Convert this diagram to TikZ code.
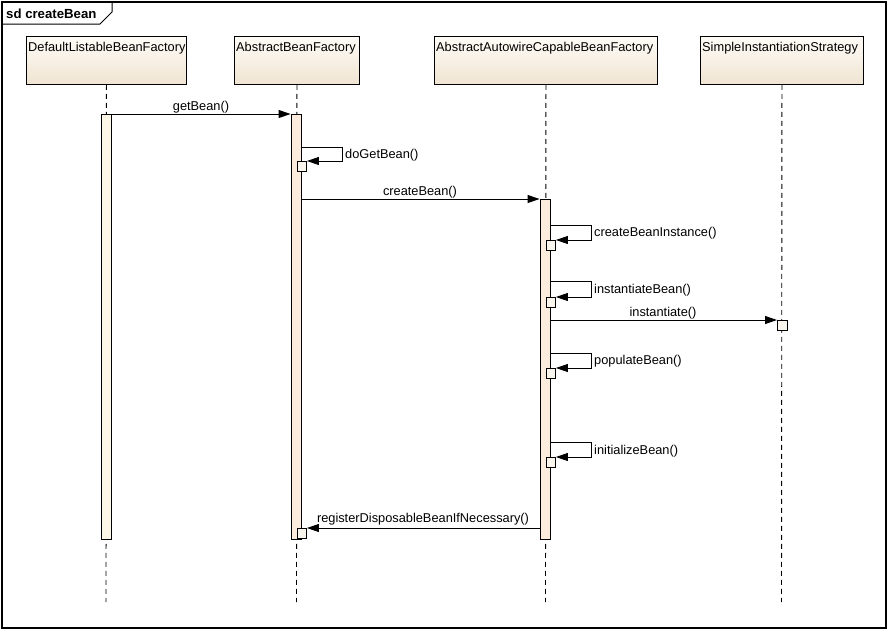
\documentclass[tikz,border=0pt]{standalone}
\usepackage{fontspec}
\setmainfont{Liberation Sans}
\usetikzlibrary{arrows.meta}
\definecolor{boxtop}{RGB}{254,252,247}
\definecolor{boxbot}{RGB}{240,228,210}
\definecolor{actA}{RGB}{253,247,232}
\definecolor{actB}{RGB}{252,236,222}
\definecolor{smallc}{RGB}{250,246,238}
\tikzset{
  objbox/.style={draw=black, line width=0.9pt, rectangle, inner sep=0pt, top color=boxtop, bottom color=boxbot},
  objtext/.style={anchor=base west, inner sep=0pt, font=\fontsize{12.8}{15}\selectfont},
  lifeline/.style={draw=black, line width=0.9pt, dash pattern=on 5pt off 4pt},
  act/.style={draw=black, line width=0.9pt, rectangle, inner sep=0pt, minimum width=10pt, anchor=north},
  smallbox/.style={draw=black, line width=0.9pt, rectangle, inner sep=0pt, minimum width=9.5pt, minimum height=9.5pt, fill=smallc, anchor=north west},
  msg/.style={draw=black, line width=0.9pt, -{Triangle[length=12pt,width=8pt]}},
  msglabel/.style={anchor=base, inner sep=0pt, font=\fontsize{12.8}{15}\selectfont},
  selflabel/.style={anchor=west, inner sep=0pt, font=\fontsize{12.8}{15}\selectfont},
}
\begin{document}
\begin{tikzpicture}[x=1pt,y=-1pt]
\useasboundingbox (0,0) rectangle (888,630);
\fill[white] (0,0) rectangle (888,630);
% frame
\draw[line width=1.2pt] (2,2) rectangle (886,628);
\draw[line width=1pt] (2,24) -- (100,24) -- (112,12) -- (112,2);
\node[anchor=base west, inner sep=0pt, font=\bfseries\fontsize{13.2}{15}\selectfont] (title) at (6,18) {sd createBean};

% object boxes
\node[objbox, anchor=north west, minimum width=160pt, minimum height=48pt] (b1) at (26,36) {};
\node[objbox, anchor=north west, minimum width=125pt, minimum height=48pt] (b2) at (234,36) {};
\node[objbox, anchor=north west, minimum width=223pt, minimum height=48pt] (b3) at (434,36) {};
\node[objbox, anchor=north west, minimum width=163pt, minimum height=48pt] (b4) at (700,36) {};
\node[objtext] (t1) at (28,51) {DefaultListableBeanFactory};
\node[objtext] (t2) at (236,51) {AbstractBeanFactory};
\node[objtext] (t3) at (436,51) {AbstractAutowireCapableBeanFactory};
\node[objtext] (t4) at (702,51) {SimpleInstantiationStrategy};

% lifelines
\coordinate (e1) at (106,602);
\coordinate (e2) at (296.5,602);
\coordinate (e3) at (545.5,602);
\coordinate (e4) at (781.5,602);
\draw[lifeline] (b1.south) -- (e1);
\draw[lifeline] (b2.south) -- (e2);
\draw[lifeline] (b3.south) -- (e3);
\draw[lifeline] (b4.south) -- (e4);

% activation bars
\node[act, fill=actA, minimum height=425pt] (a1) at (106,114) {};
\node[act, fill=actB, minimum height=425pt] (a2) at (296,114) {};
\node[act, fill=actB, minimum height=340pt] (a3) at (545,199) {};

% small activation boxes
\node[smallbox] (s1) at (296.5,161) {};
\node[smallbox] (s2) at (545.5,240) {};
\node[smallbox] (s3) at (545.5,297) {};
\node[smallbox] (s4) at (545.5,368) {};
\node[smallbox] (s5) at (777,320) {};
\node[smallbox] (s6) at (545.5,457) {};
\node[smallbox] (s7) at (296.5,528) {};

% messages
\draw[msg] (a1.north east) -- (a2.north west);
\node[msglabel] (m1) at (201,110.5) {getBean()};

\draw[msg] (a2.east |- a3.north) -- (a3.north west);
\node[msglabel] (m2) at (420,195) {createBean()};

\draw[msg] (a3.east |- s5.north) -- (s5.north west);
\node[msglabel] (m3) at (663,316) {instantiate()};

\draw[msg] (a3.west |- s7.north) -- (s7.north east);
\node[msglabel] (m4) at (423,522.5) {registerDisposableBeanIfNecessary()};

% self calls
\draw[msg] (a2.east |- 0,147) -- (342,147) |- (s1.north east);
\node[selflabel] (l1) at (345,155) {doGetBean()};

\draw[msg] (a3.east |- 0,225) -- (591,225) |- (s2.north east);
\node[selflabel] (l2) at (594,233.5) {createBeanInstance()};

\draw[msg] (a3.east |- 0,281) -- (591,281) |- (s3.north east);
\node[selflabel] (l3) at (594,290) {instantiateBean()};

\draw[msg] (a3.east |- 0,353) -- (591,353) |- (s4.north east);
\node[selflabel] (l4) at (594,361.5) {populateBean()};

\draw[msg] (a3.east |- 0,442) -- (591,442) |- (s6.north east);
\node[selflabel] (l5) at (594,451) {initializeBean()};
\end{tikzpicture}
\end{document}
